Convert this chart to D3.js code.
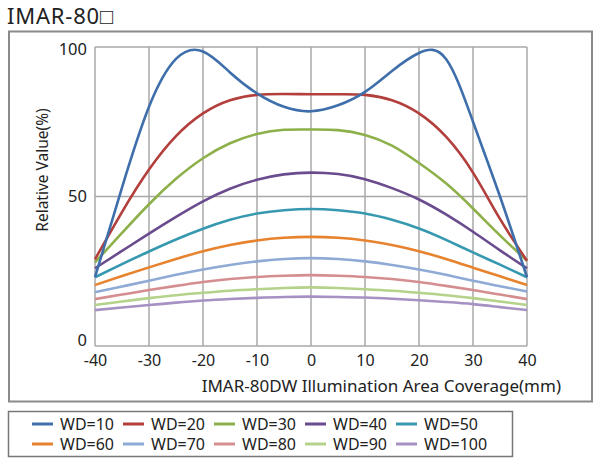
<!DOCTYPE html>
<html><head><meta charset="utf-8">
<script src="https://cdn.jsdelivr.net/npm/d3@7"></script>
<style>body{margin:0;background:#fff;} svg{display:block;font-family:"Noto Sans","Open Sans",sans-serif;}</style>
</head><body><svg id="c" width="604" height="462"></svg>
<script>
const xs = [-40,-35,-30,-25,-20,-15,-10,-5,0,5,10,15,20,25,30,35,40];
const seriesNames = ["WD=10","WD=20","WD=30","WD=40","WD=50","WD=60","WD=70","WD=80","WD=90","WD=100"];
const wd10  = [23,53,80,96,98.5,91.5,84.5,80,78.5,80.5,85,92,98,96,75,50,23];
const wd20  = [29,44.8,59,70.2,77.8,82.2,84,84.3,84.2,84.2,84,82.2,77.8,70,58,42.5,28.5];
const wd30  = [28,37.8,47.4,55.9,62.8,67.8,70.9,72.3,72.4,72.2,70.6,67,61.2,54.4,46,37,28.5];
const wd40  = [26,31.8,37.6,43.2,48.4,52.6,55.6,57.4,58,57.5,55.8,52.8,49,44,38.2,32,26];
const wd50  = [23,27.4,31.6,35.6,39.2,42.2,44.3,45.4,45.8,45.4,44.3,42.2,39.3,35.5,31.3,27.2,23];
const wd60  = [20.4,23.4,26.3,29.1,31.7,33.8,35.3,36.2,36.5,36.2,35.3,33.8,31.7,29.1,26.2,23.3,20.4];
const wd70  = [18,19.9,21.8,23.8,25.6,27.1,28.3,29.1,29.4,29.1,28.3,27.1,25.6,23.8,21.8,20,18.2];
const wd80  = [15.7,17.2,18.7,20.1,21.4,22.4,23.1,23.5,23.7,23.5,23.1,22.4,21.4,20.1,18.7,17.2,15.7];
const wd90  = [13.7,14.9,16,17,17.8,18.5,19,19.4,19.6,19.4,19,18.5,17.8,17,16,14.9,13.7];
const wd100 = [12,12.9,13.7,14.5,15.2,15.7,16.1,16.4,16.5,16.4,16.2,15.8,15.3,14.7,14,13,12];
const allValues = [wd10,wd20,wd30,wd40,wd50,wd60,wd70,wd80,wd90,wd100];
const colors = ["#3f6fab","#b23f3c","#8db04a","#6a4b8e","#3799b0","#e7832f","#8eaad5","#d58e90","#b4d28a","#a591c2"];
const xTicks = [-40,-30,-20,-10,0,10,20,30,40];
const yTicks = [0,50,100];
const title = "IMAR-80□";
const xTitle = "IMAR-80DW  Illumination Area Coverage(mm)";
const yTitle = "Relative Value(%)";

const svg = d3.select("#c");
const x = d3.scaleLinear().domain([-40,40]).range([95,527]);
const y = d3.scaleLinear().domain([0,100]).range([346,47]);

svg.append("text").attr("x",7).attr("y",24).attr("font-size",22).attr("letter-spacing",0.8).attr("fill","#222").text(title);
svg.append("rect").attr("x",9).attr("y",31.5).attr("width",583).attr("height",370)
  .attr("fill","none").attr("stroke","#8a8a8a").attr("stroke-width",2);

// gridlines
const grid = svg.append("g").attr("stroke","#a8a8a8").attr("stroke-width",1.5);
xTicks.forEach(t=>grid.append("line").attr("x1",x(t)).attr("x2",x(t)).attr("y1",y(0)).attr("y2",y(100)));
yTicks.forEach(t=>grid.append("line").attr("x1",x(-40)).attr("x2",x(40)).attr("y1",y(t)).attr("y2",y(t)));

// axes
const xa = svg.append("g").attr("transform",`translate(0,${y(0)})`)
  .call(d3.axisBottom(x).tickValues(xTicks).tickSize(0).tickPadding(9).tickFormat(d=>String(d)));
xa.select(".domain").remove();
xa.selectAll("text").attr("font-size",16).attr("fill","#222").attr("font-family","'Noto Sans',sans-serif");
const ya = svg.append("g").attr("transform",`translate(${x(-40)},0)`)
  .call(d3.axisLeft(y).tickValues(yTicks).tickSize(0).tickPadding(8).tickFormat(d=>String(d)));
ya.select(".domain").remove();
ya.selectAll("text").attr("font-size",16.5).attr("fill","#222").attr("font-family","'Noto Sans',sans-serif")
  .attr("y",d=>d===0?-6:(d===100?2:0));

svg.append("text").attr("x",561).attr("y",392).attr("text-anchor","end").attr("font-size",17).attr("fill","#222").text(xTitle);
svg.append("text").attr("transform","translate(48,170) rotate(-90)").attr("text-anchor","middle").attr("font-size",15.5).attr("fill","#222").text(yTitle);

const line = d3.line().x((d,i)=>x(xs[i])).y(d=>y(d)).curve(d3.curveNatural);
const order = [9,8,7,6,5,4,3,2,1,0];
order.forEach(i=>{
  svg.append("path").attr("d",line(allValues[i])).attr("fill","none")
    .attr("stroke",colors[i]).attr("stroke-width",2.6).attr("stroke-linejoin","round");
});

// legend
svg.append("rect").attr("x",8.5).attr("y",411.5).attr("width",504).attr("height",45)
  .attr("fill","none").attr("stroke","#777").attr("stroke-width",1.5);
seriesNames.forEach((n,i)=>{
  const col = i%5, row = Math.floor(i/5);
  const gx = 32 + col*91, gy = 424 + row*20;
  svg.append("line").attr("x1",gx).attr("x2",gx+21).attr("y1",gy).attr("y2",gy)
    .attr("stroke",colors[i]).attr("stroke-width",3);
  svg.append("text").attr("x",gx+28).attr("y",gy).attr("dy","0.36em").attr("font-size",16).attr("fill","#222").text(n);
});
</script></body></html>
